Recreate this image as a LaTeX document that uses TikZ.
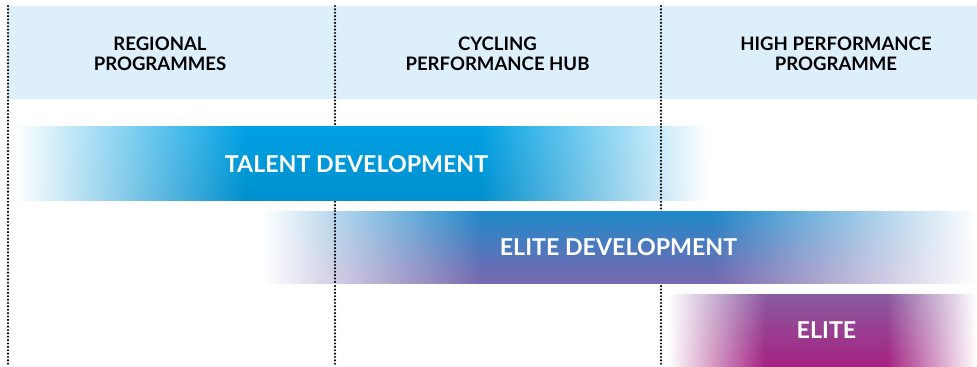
\documentclass[tikz,border=0pt]{standalone}
\usepackage{fontspec}
\setmainfont{Lato}

\definecolor{headblue}{HTML}{DDEFFB}
\definecolor{talenttop}{HTML}{00A1E4}
\definecolor{talentbot}{HTML}{008FCD}
\definecolor{elitedevtop}{HTML}{1E8ACB}
\definecolor{elitedevbot}{HTML}{7A68AE}
\definecolor{elitetop}{HTML}{8A5CA0}
\definecolor{elitebot}{HTML}{A62080}

% bar fading to white at both ends: x0, plateau from, plateau to, x1, y0, y1, top, bottom
\newcommand{\fadebar}[8]{%
	\foreach \i in {0,...,23} {
		\pgfmathsetmacro{\ya}{#5+(#6-#5)*\i/24}
		\pgfmathsetmacro{\yb}{min(#6,#5+(#6-#5)*(\i+1)/24+0.5)}
		\pgfmathtruncatemacro{\p}{100-100*(\i+0.5)/24}
		\colorlet{stripcol}{#7!\p!#8}
		\shade [left color=white, right color=stripcol] (#1,\ya) rectangle (#2+0.5,\yb);
		\shade [left color=stripcol, right color=white] (#3-0.5,\ya) rectangle (#4,\yb);
	}
	\shade [top color=#7, bottom color=#8] (#2,#5) rectangle (#3,#6);}

\tikzset{
	header/.style={font=\bfseries\fontsize{13.2}{14.2}\selectfont, align=center, text=black},
	barlabel/.style={font=\bfseries\fontsize{16.5}{18}\selectfont, text=white},
	divider/.style={line width=1.7pt, dash pattern=on 0pt off 2.4pt, line cap=round}
}

\begin{document}
\begin{tikzpicture}[x=0.025cm, y=-0.025cm]
	\useasboundingbox (0,0) rectangle (977,367);

	\fill [headblue] (8,6) rectangle (977,99);
	\foreach \x in {8,335,661}
		\draw [divider] (\x,6) -- (\x,367);

	\node [header] (regional) at (160,53.5) {REGIONAL\\PROGRAMMES};
	\node [header] (hub) at (497.5,53.5) {CYCLING\\PERFORMANCE HUB};
	\node [header] (hpp) at (836,53.5) {HIGH PERFORMANCE\\PROGRAMME};

	\fadebar{15}{245}{480}{708}{127}{200}{talenttop}{talentbot}
	\node [barlabel] (talent) at (356.5,164.5) {TALENT DEVELOPMENT};

	\fadebar{262}{480}{715}{977}{211}{283}{elitedevtop}{elitedevbot}
	\node [barlabel] (elitedev) at (618.5,247) {ELITE DEVELOPMENT};

	\fadebar{668}{765}{887}{977}{294}{367}{elitetop}{elitebot}
	\node [barlabel] (elite) at (826.5,330.5) {ELITE};

	\draw [divider] (661,127) -- (661,200);
	\draw [divider] (335,211) -- (335,283);
\end{tikzpicture}
\end{document}
